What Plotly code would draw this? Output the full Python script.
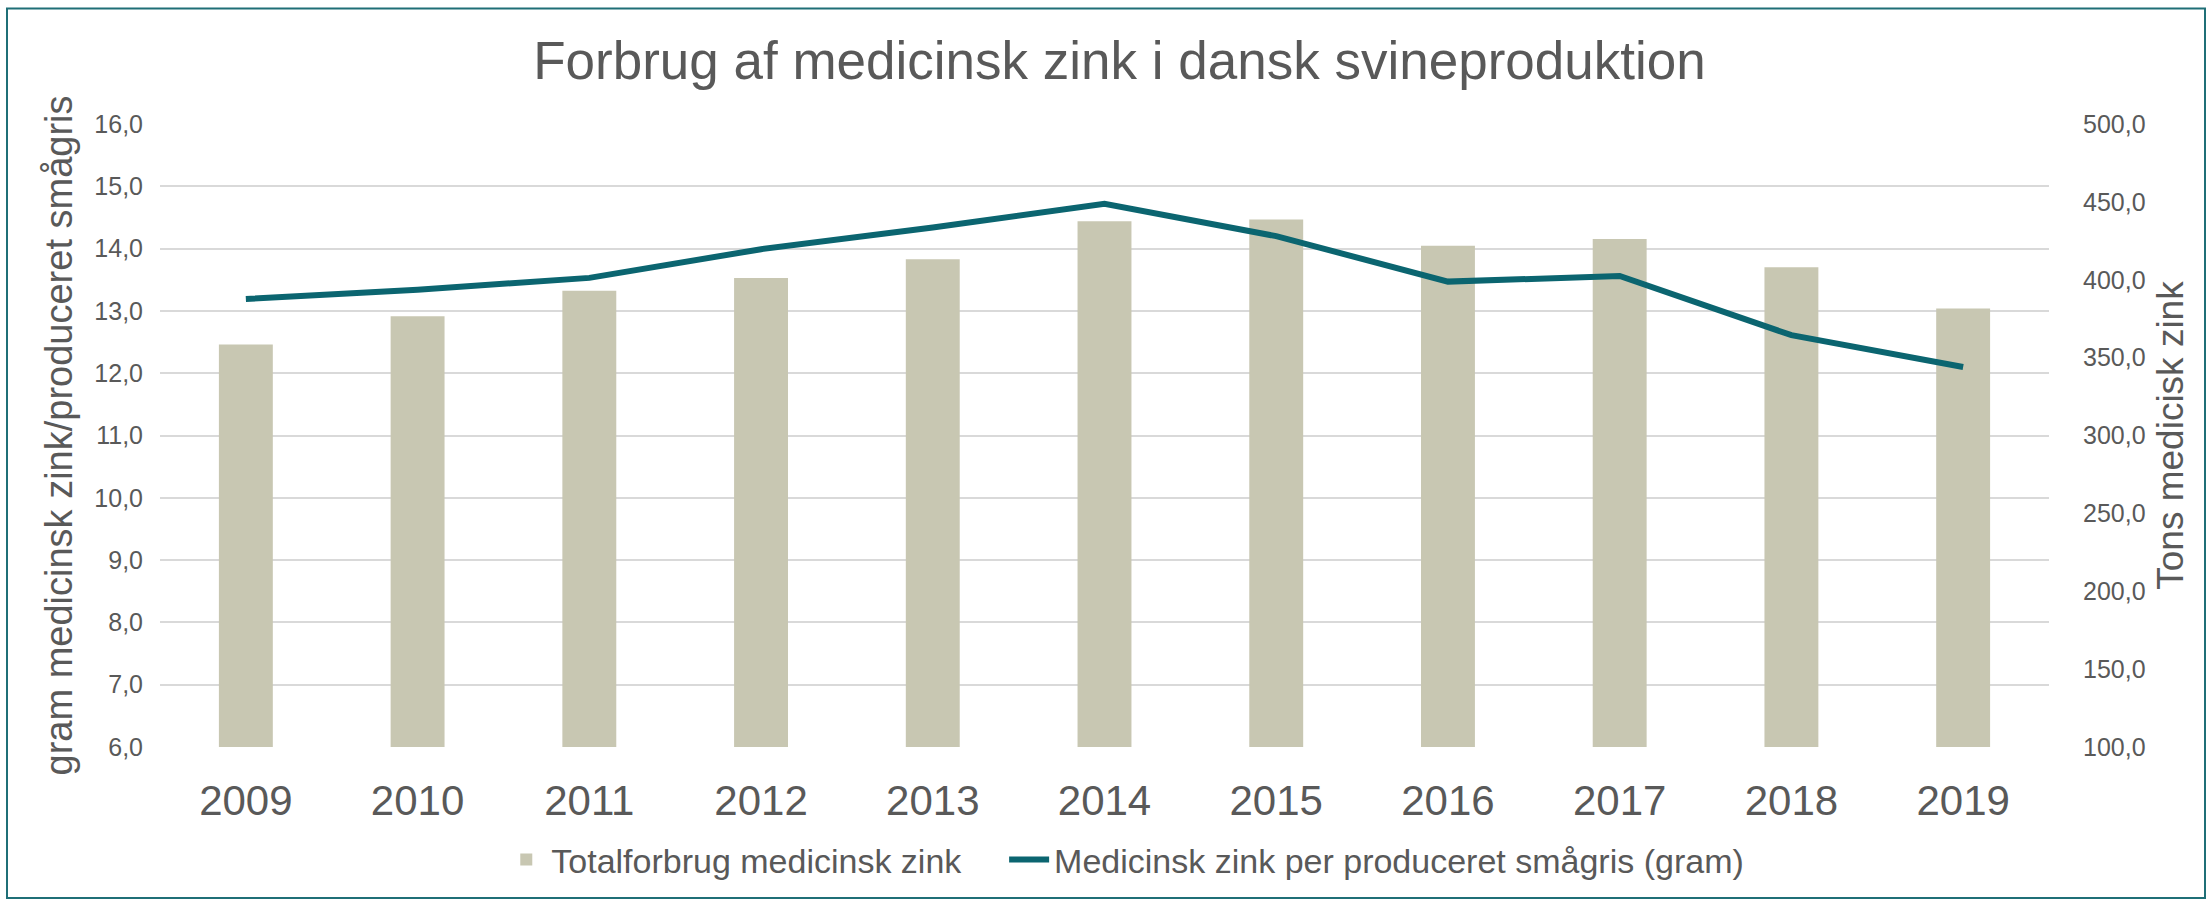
import plotly.graph_objects as go

years = ['2009', '2010', '2011', '2012', '2013', '2014', '2015', '2016', '2017', '2018', '2019']
# Tons medicinsk zink (right axis)
total_tons = [358.5, 376.6, 392.9, 401.2, 413.2, 437.6, 438.7, 421.8, 426.1, 408.1, 381.6]
# gram per produceret smågris (left axis)
gram_per_pig = [13.19, 13.34, 13.53, 13.99, 14.34, 14.72, 14.20, 13.47, 13.56, 12.61, 12.10]

grey_text = '#595959'
bar_color = '#C8C7B2'
line_color = '#0B6570'
frame_color = '#1F6F77'

W, H = 2208, 901
m_l, m_r, m_t, m_b = 160, 159, 124, 154
pw = W - m_l - m_r
ph = H - m_t - m_b

fig = go.Figure()
fig.add_trace(go.Bar(
    x=years, y=total_tons, name='Totalforbrug medicinsk zink\u00a0\u00a0\u00a0\u00a0',
    marker=dict(color=bar_color, line=dict(width=0)),
    yaxis='y',
))
fig.add_trace(go.Scatter(
    x=years, y=gram_per_pig, name='Medicinsk zink per produceret smågris (gram)',
    mode='lines', line=dict(color=line_color, width=6),
    yaxis='y2',
))

fig.update_layout(
    width=W, height=H,
    margin=dict(l=m_l, r=m_r, t=m_t, b=m_b),
    paper_bgcolor='white', plot_bgcolor='white',
    font=dict(family='Liberation Sans, Arial', color=grey_text),
    separators=',.',
    bargap=0.686,
    title=dict(text='Forbrug af medicinsk zink i dansk svineproduktion',
               font=dict(size=53, color=grey_text),
               x=0.507, xanchor='center', y=1 - 60 / H, yanchor='middle'),
    xaxis=dict(
        type='category', showgrid=False, showline=False, ticks='',
        tickfont=dict(size=42, color=grey_text), ticklabelstandoff=25,
    ),
    yaxis=dict(
        side='right', range=[100, 500], dtick=50, tickformat='.1f',
        showgrid=False, zeroline=False, showline=False, ticks='',
        tickfont=dict(size=25, color=grey_text), ticklabelstandoff=33,
        title=dict(text='Tons medicisk zink', font=dict(size=37, color=grey_text), standoff=12),
    ),
    yaxis2=dict(
        side='left', overlaying='y', range=[6, 16], dtick=1, tickformat='.1f',
        showgrid=True, gridcolor='#D9D9D9', gridwidth=2, zeroline=False, showline=False, ticks='',
        tickfont=dict(size=25, color=grey_text), ticklabelstandoff=16,
        title=dict(text='gram medicinsk zink/produceret smågris', font=dict(size=38, color=grey_text), standoff=10),
    ),
    legend=dict(
        orientation='h', x=0.511, xanchor='center', y=-(860 - (H - m_b)) / ph,
        yanchor='middle', font=dict(size=34, color=grey_text), bgcolor='rgba(0,0,0,0)',
        itemwidth=40,
    ),
    shapes=[dict(
        type='rect', xref='paper', yref='paper',
        x0=(7 - m_l) / pw, x1=(W - 3 - m_l) / pw,
        y0=-(H - 3 - (H - m_b)) / ph, y1=1 + (m_t - 8.5) / ph,
        line=dict(color=frame_color, width=2), fillcolor='rgba(0,0,0,0)', layer='below',
    )],
    showlegend=True,
)

# the page body has a default 8px margin; remove it so the figure sits at the window corner
fig.write_html('out.html', config={'displayModeBar': False},
               post_script="document.body.style.margin='0';")
